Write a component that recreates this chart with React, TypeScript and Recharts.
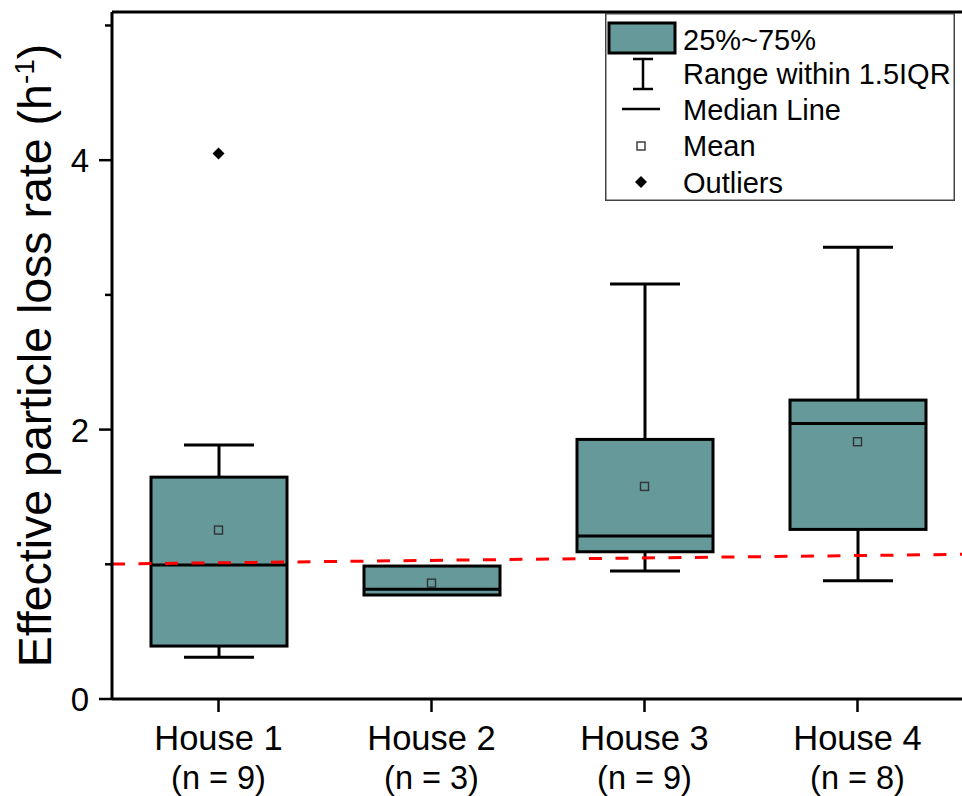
import React from "react";
import { ComposedChart, Bar, Scatter, XAxis, YAxis, ReferenceLine, Legend } from "recharts";

const houses = ["House 1", "House 2", "House 3", "House 4"];
const sampleSizes = ["(n = 9)", "(n = 3)", "(n = 9)", "(n = 8)"];
const whiskerLow = [0.31, 0.772, 0.95, 0.878];
const q1Values = [0.393, 0.772, 1.093, 1.259];
const medianValues = [0.995, 0.815, 1.21, 2.046];
const q3Values = [1.647, 0.987, 1.927, 2.219];
const whiskerHigh = [1.885, 0.987, 3.08, 3.354];
const meanValues = [1.254, 0.86, 1.578, 1.91];
const outlierValues: (number | null)[] = [4.05, null, null, null];
const yTicks = [0, 1, 2, 3, 4, 5];
const yLabeledTicks = [0, 2, 4];
const yMax = 5.1;
// red dashed reference line: value at the first and last category centres
const thresholdLine = [
  { x: "House 1", y: 1.011 },
  { x: "House 4", y: 1.065 },
];

const FONT = '"Liberation Sans", Arial, sans-serif';
const TEAL = "#669999";

const data = houses.map((h, i) => ({
  house: h,
  n: sampleSizes[i],
  lo: whiskerLow[i],
  q1: q1Values[i],
  median: medianValues[i],
  q3: q3Values[i],
  hi: whiskerHigh[i],
  mean: meanValues[i],
  outlier: outlierValues[i],
}));

const BoxShape = (props: any) => {
  const { x, y, width, height, payload } = props;
  if (payload == null || !isFinite(height)) return <g />;
  const k = height / (payload.hi - payload.lo);
  const py = (v: number) => y + (payload.hi - v) * k;
  const cx = x + width / 2;
  const cap = 35;
  const yHi = py(payload.hi);
  const yQ3 = py(payload.q3);
  const yQ1 = py(payload.q1);
  const yLo = py(payload.lo);
  const yMed = py(payload.median);
  return (
    <g>
      {payload.hi > payload.q3 && (
        <g>
          <line x1={cx} x2={cx} y1={yHi} y2={yQ3} stroke="#000" strokeWidth={3} />
          <line x1={cx - cap} x2={cx + cap} y1={yHi} y2={yHi} stroke="#000" strokeWidth={3} />
        </g>
      )}
      {payload.lo < payload.q1 && (
        <g>
          <line x1={cx} x2={cx} y1={yQ1} y2={yLo} stroke="#000" strokeWidth={3} />
          <line x1={cx - cap} x2={cx + cap} y1={yLo} y2={yLo} stroke="#000" strokeWidth={3} />
        </g>
      )}
      <rect x={x} y={yQ3} width={width} height={yQ1 - yQ3} fill={TEAL} stroke="#000" strokeWidth={3} />
      <line x1={x} x2={x + width} y1={yMed} y2={yMed} stroke="#000" strokeWidth={3} />
    </g>
  );
};

const MeanShape = (props: any) => {
  const { cx, cy } = props;
  if (cx == null || cy == null) return <g />;
  return <rect x={cx - 4} y={cy - 4} width={8} height={8} fill="none" stroke="#333" strokeWidth={1.4} />;
};

const OutlierShape = (props: any) => {
  const { cx, cy, payload } = props;
  if (!payload || payload.outlier == null) return <g />;
  const r = 6;
  return <path d={`M${cx},${cy - r}L${cx + r},${cy}L${cx},${cy + r}L${cx - r},${cy}Z`} fill="#000" />;
};

// extends the centre-to-centre segment by half a band on each side (to the plot edges)
const ExtendedDashedLine = (props: any) => {
  const x1 = Number(props.x1);
  const y1 = Number(props.y1);
  const x2 = Number(props.x2);
  const y2 = Number(props.y2);
  if (![x1, y1, x2, y2].every((v) => isFinite(v))) return <g />;
  const ext = (x2 - x1) / ((houses.length - 1) * 2);
  const slope = (y2 - y1) / (x2 - x1 || 1);
  return (
    <line
      x1={x1 - ext}
      y1={y1 - slope * ext}
      x2={x2 + ext}
      y2={y2 + slope * ext}
      stroke="#ff0000"
      strokeWidth={3}
      strokeDasharray="13 13.5"
    />
  );
};

const YTick = (props: any) => {
  const { x, y, payload } = props;
  const major = yLabeledTicks.includes(payload.value);
  return (
    <g>
      <line x1={x - (major ? 13 : 7)} x2={x} y1={y} y2={y} stroke="#000" strokeWidth={2.5} />
      {major && (
        <text x={x - 23} y={y} dy={12} textAnchor="end" fontSize={33} fontFamily={FONT} fill="#000">
          {payload.value}
        </text>
      )}
    </g>
  );
};

const XTick = (props: any) => {
  const { x, y, payload, index } = props;
  return (
    <g>
      <line x1={x} x2={x} y1={y} y2={y + 13} stroke="#000" strokeWidth={2.5} />
      <text x={x} y={y + 51} textAnchor="middle" fontSize={34.5} fontFamily={FONT} fill="#000">
        {payload.value}
      </text>
      <text x={x} y={y + 90} textAnchor="middle" fontSize={32.5} fontFamily={FONT} fill="#000">
        {sampleSizes[index]}
      </text>
    </g>
  );
};

const YLabel = (props: any) => {
  const vb = props.viewBox || { y: 12, height: 687 };
  const cy = vb.y + vb.height / 2;
  return (
    <text
      transform={`translate(51,${cy}) rotate(-90)`}
      textAnchor="middle"
      fontSize={46.5}
      fontFamily={FONT}
      fill="#000"
    >
      Effective particle loss rate (h
      <tspan dy={-17} fontSize={28}>-1</tspan>
      <tspan dy={17}>)</tspan>
    </text>
  );
};

const LegendContent = () => (
  <svg width={350} height={188} style={{ display: "block" }}>
    <rect x={0.75} y={0.75} width={348.5} height={186.5} fill="#fff" stroke="#444" strokeWidth={1.5} />
    <rect x={4} y={10} width={66} height={30} fill={TEAL} stroke="#000" strokeWidth={3} />
    <text x={78} y={37} fontSize={29} fontFamily={FONT} fill="#000">25%~75%</text>
    <line x1={38} x2={38} y1={46} y2={76} stroke="#000" strokeWidth={2.5} />
    <line x1={28} x2={48} y1={46} y2={46} stroke="#000" strokeWidth={2.5} />
    <line x1={28} x2={48} y1={76} y2={76} stroke="#000" strokeWidth={2.5} />
    <text x={78} y={71} fontSize={29} fontFamily={FONT} fill="#000">Range within 1.5IQR</text>
    <line x1={17} x2={55} y1={96} y2={96} stroke="#000" strokeWidth={2.5} />
    <text x={78} y={107} fontSize={29} fontFamily={FONT} fill="#000">Median Line</text>
    <rect x={32} y={129} width={8} height={8} fill="none" stroke="#333" strokeWidth={1.4} />
    <text x={78} y={143} fontSize={29} fontFamily={FONT} fill="#000">Mean</text>
    <path d="M36,163L42,169L36,175L30,169Z" fill="#000" />
    <text x={78} y={180} fontSize={29} fontFamily={FONT} fill="#000">Outliers</text>
  </svg>
);

export default function App() {
  return (
    <div
      style={{
        position: "absolute",
        left: 0,
        top: 0,
        width: 962,
        height: 796,
        overflow: "hidden",
        background: "#fff",
        fontFamily: FONT,
      }}
    >
      <ComposedChart
        width={964}
        height={796}
        data={data}
        margin={{ top: 12, right: 0, bottom: 0, left: 0 }}
      >
        <XAxis
          dataKey="house"
          type="category"
          height={97}
          tickLine={false}
          tickSize={0}
          tickMargin={0}
          interval={0}
          axisLine={{ stroke: "#000", strokeWidth: 3 }}
          tick={<XTick />}
        />
        <YAxis
          type="number"
          domain={[0, yMax]}
          allowDataOverflow={true}
          ticks={yTicks}
          width={112}
          tickLine={false}
          tickSize={0}
          tickMargin={0}
          interval={0}
          axisLine={{ stroke: "#000", strokeWidth: 3 }}
          tick={<YTick />}
          label={<YLabel />}
        />
        <Bar
          dataKey={(d: any) => [d.lo, d.hi]}
          barSize={136}
          shape={<BoxShape />}
          isAnimationActive={false}
        />
        <Scatter dataKey="mean" shape={<MeanShape />} isAnimationActive={false} />
        <Scatter dataKey="outlier" shape={<OutlierShape />} isAnimationActive={false} />
        <ReferenceLine y={yMax} stroke="#000" strokeWidth={3} ifOverflow="visible" />
        <ReferenceLine
          segment={thresholdLine}
          ifOverflow="visible"
          shape={ExtendedDashedLine}
        />
        <Legend
          layout="vertical"
          align="center"
          verticalAlign="middle"
          wrapperStyle={{ left: 605, top: 13, width: 350, height: 188 }}
          content={<LegendContent />}
        />
      </ComposedChart>
    </div>
  );
}
